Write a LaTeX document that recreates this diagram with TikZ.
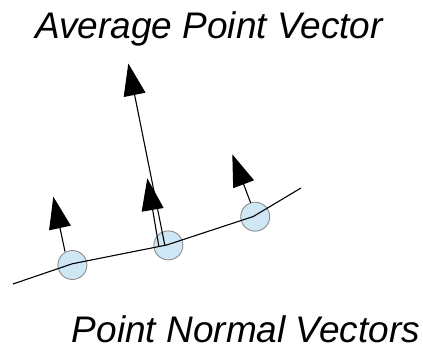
\documentclass[tikz,border=0pt]{standalone}
\usepackage{fontspec}
\setmainfont{Liberation Sans}
\usetikzlibrary{arrows.meta}
\definecolor{ptfill}{RGB}{207,231,245}
\definecolor{ptdraw}{RGB}{140,140,140}
\tikzset{
  pt/.style={circle, draw=ptdraw, line width=0.9pt, fill=ptfill, minimum size=29pt, inner sep=0pt},
  vec/.style={line width=1.1pt, -{Triangle[length=32pt,width=22pt]}},
  curveline/.style={line width=1.1pt},
  lbl/.style={font=\fontsize{37}{42}\selectfont\itshape, inner sep=0pt, anchor=base}
}
\begin{document}
\begin{tikzpicture}[x=1pt,y=-1pt]
\useasboundingbox (0,0) rectangle (423,352);
% points
\node[pt] (c1) at (72.4,265) {};
\node[pt] (c2) at (168.4,245.4) {};
\node[pt] (c3) at (255.2,216.7) {};
% curve
\coordinate (a0) at (13,284);
\coordinate (b1) at (72.2,263.8);
\coordinate (b2) at (166.7,245);
\coordinate (b3) at (253.3,216.5);
\coordinate (a4) at (301,188);
\draw[curveline] (a0) -- (b1) -- (b2) -- (b3) -- (a4);
% normals
\coordinate (s1) at (65,251.5);
\coordinate (t1) at (53.3,196.7);
\coordinate (s2) at (158.8,246);
\coordinate (t2) at (147.3,178.3);
\coordinate (s3) at (250.7,203);
\coordinate (t3) at (232.3,154.3);
\draw[vec] (s1) -- (t1);
\draw[vec] (s2) -- (t2);
\draw[vec] (s3) -- (t3);
% average
\coordinate (s4) at (165,246);
\coordinate (t4) at (128.3,63.5);
\draw[vec] (s4) -- (t4);
% labels
\node[lbl] (avg) at (209,38.3) {Average Point Vector};
\node[lbl] (nrm) at (246,343) {Point Normal Vectors};
\end{tikzpicture}
\end{document}
